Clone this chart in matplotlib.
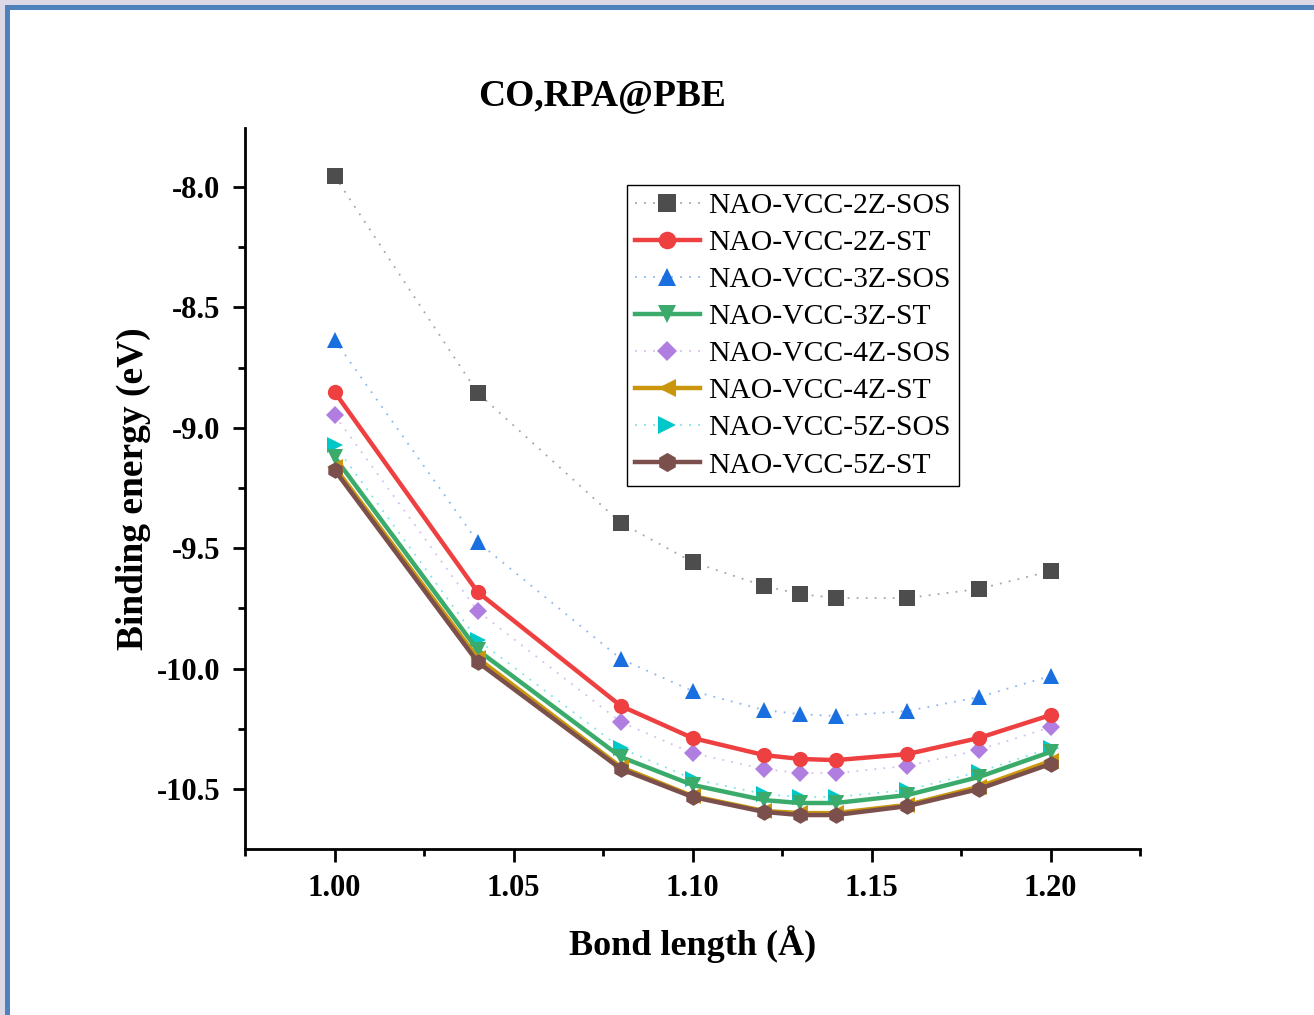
import matplotlib
matplotlib.use('Agg')
import numpy as np
import matplotlib.pyplot as plt
from matplotlib.patches import Rectangle
from matplotlib.ticker import MultipleLocator, FormatStrFormatter

bond = [1.00, 1.04, 1.08, 1.10, 1.12, 1.13, 1.14, 1.16, 1.18, 1.20]

sos_2z = [-7.954, -8.855, -9.395, -9.557, -9.657, -9.690, -9.707, -9.707, -9.669, -9.595]
st_2z = [-8.851, -9.682, -10.155, -10.288, -10.359, -10.375, -10.380, -10.355, -10.288, -10.193]
sos_3z = [-8.635, -9.474, -9.960, -10.093, -10.172, -10.189, -10.197, -10.176, -10.118, -10.031]
st_3z = [-9.121, -9.923, -10.367, -10.483, -10.546, -10.558, -10.558, -10.525, -10.450, -10.346]
sos_4z = [-8.947, -9.761, -10.222, -10.351, -10.417, -10.434, -10.434, -10.404, -10.338, -10.243]
st_4z = [-9.163, -9.957, -10.409, -10.529, -10.591, -10.600, -10.600, -10.566, -10.491, -10.384]
sos_5z = [-9.071, -9.881, -10.330, -10.458, -10.521, -10.533, -10.533, -10.504, -10.429, -10.330]
st_5z = [-9.175, -9.973, -10.417, -10.533, -10.595, -10.608, -10.608, -10.571, -10.500, -10.396]

labels = ['NAO-VCC-2Z-SOS', 'NAO-VCC-2Z-ST', 'NAO-VCC-3Z-SOS', 'NAO-VCC-3Z-ST',
          'NAO-VCC-4Z-SOS', 'NAO-VCC-4Z-ST', 'NAO-VCC-5Z-SOS', 'NAO-VCC-5Z-ST']
colors = ['#4d4d4d', '#ee4040', '#1a6fe0', '#3aab6a',
          '#b07ee0', '#c9960c', '#00c8c8', '#7b4f4b']
markers = ['s', 'o', '^', 'v', 'D', '<', '>', 'h']
msizes = [11, 11, 11, 11, 9, 11, 11, 12]

plt.rcParams['font.family'] = ['Liberation Serif', 'DejaVu Serif']

fig = plt.figure(figsize=(13.14, 10.15), dpi=100)
W, H = 1314, 1015
# window frame
fig.add_artist(Rectangle((0, 0), 5 / W, 1, transform=fig.transFigure, color='#dcd8e6', lw=0))
fig.add_artist(Rectangle((0, 1 - 5 / H), 1, 5 / H, transform=fig.transFigure, color='#dcd8e6', lw=0))
fig.add_artist(Rectangle((5 / W, 0), 5 / W, 1 - 5 / H, transform=fig.transFigure, color='#4f81bd', lw=0))
fig.add_artist(Rectangle((5 / W, 1 - 10 / H), 1 - 5 / W, 5 / H, transform=fig.transFigure, color='#4f81bd', lw=0))

ax = fig.add_axes([245 / W, 1 - 849 / H, 895 / W, 721 / H])

series = [sos_2z, st_2z, sos_3z, st_3z, sos_4z, st_4z, sos_5z, st_5z]
for i, y in enumerate(series):
    if i % 2 == 0:
        c = matplotlib.colors.to_rgba(colors[i])
        ax.plot(bond, y, linestyle=(0, (1, 4)), linewidth=1.3, color=(c[0], c[1], c[2], 0.5),
                marker=markers[i], markersize=msizes[i], markerfacecolor=c[:3],
                markeredgewidth=0, label=labels[i], zorder=3)
    else:
        ax.plot(bond, y, linestyle='-', linewidth=3.2, color=colors[i],
                marker=markers[i], markersize=msizes[i], markeredgewidth=0,
                label=labels[i], zorder=4)

ax.set_xlim(0.975, 1.225)
ax.set_ylim(-10.749, -7.755)
ax.xaxis.set_major_locator(MultipleLocator(0.05))
ax.xaxis.set_minor_locator(MultipleLocator(0.025))
ax.yaxis.set_major_locator(MultipleLocator(0.5))
ax.yaxis.set_minor_locator(MultipleLocator(0.25))
ax.xaxis.set_major_formatter(FormatStrFormatter('%.2f'))
ax.yaxis.set_major_formatter(FormatStrFormatter('%.1f'))

for side in ['top', 'right']:
    ax.spines[side].set_visible(False)
for side in ['left', 'bottom']:
    ax.spines[side].set_linewidth(2)

ax.tick_params(which='major', direction='out', length=9, width=2, labelsize=22, pad=9)
ax.tick_params(which='minor', direction='out', length=5, width=2)
for t in ax.get_xticklabels() + ax.get_yticklabels():
    t.set_fontweight('bold')

ax.set_xlabel('Bond length (Å)', fontsize=26, fontweight='bold', labelpad=16)
ax.set_ylabel('Binding energy (eV)', fontsize=27, fontweight='bold', labelpad=4)
fig.text(602 / W, 1 - 96 / H, 'CO,RPA@PBE', fontsize=27, fontweight='bold',
         ha='center', va='center')

leg = ax.legend(loc='upper left', bbox_to_anchor=(0.427, 0.921), fontsize=21.3,
                frameon=True, fancybox=False, edgecolor='black', framealpha=1,
                handlelength=2.2, labelspacing=0.35, borderpad=0.25, handletextpad=0.3,
                borderaxespad=0, markerscale=1.15)
leg.get_frame().set_linewidth(1)

fig.savefig('out.png', dpi=100)
